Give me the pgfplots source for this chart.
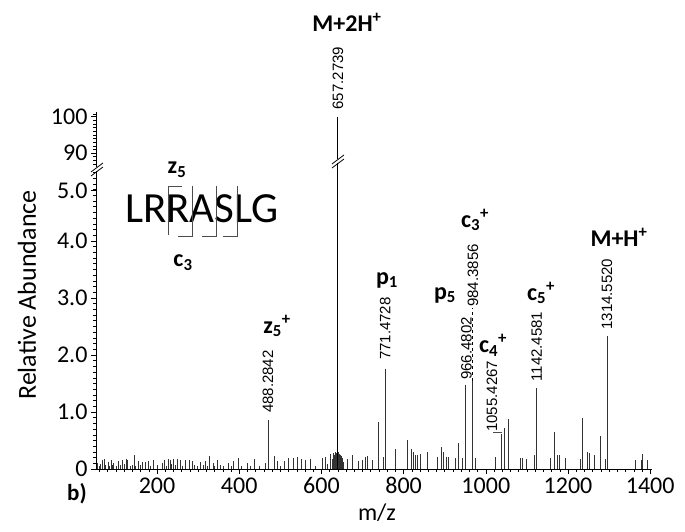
\documentclass[border=0pt]{standalone}
\usepackage{fontspec}
\setmainfont{Carlito}
\newfontfamily\arialf{Liberation Sans}
\usepackage{pgfplots}
\pgfplotsset{compat=1.18}
\begin{document}
\begin{tikzpicture}[x=1pt,y=1pt]
\useasboundingbox (0,0) rectangle (685,532);
\begin{axis}[
  at={(96pt,63pt)}, anchor=south west,
  width=556pt, height=357pt, scale only axis,
  xmin=51.6, xmax=1404.3, ymin=0, ymax=6.26,
  axis lines*=left,
  axis line style={line width=0.8pt},
  xtick={200,400,600,800,1000,1200,1400},
  xticklabels={200,400,600,800,1000,1200,1400},
  minor xtick={60,80,...,1400},
  ytick={0,1,2,3,4,4.88,5.54,6.18},
  yticklabels={0\hspace{12pt},1.0,2.0,3.0,4.0,5.0,90,100},
  minor ytick={0.1,0.2,...,5.2},
  extra y ticks={5.348,5.412,5.476,5.604,5.668,5.732,5.796,5.86,5.924,5.988,6.052,6.116,6.22},
  extra y tick labels={},
  extra tick style={major tick length=3pt},
  scaled ticks=false,
  tick align=outside, major tick length=5pt, minor tick length=3pt,
  tick style={black, line width=0.5pt},
  ticklabel style={font=\fontsize{24}{24}\selectfont},
  /pgf/number format/assume math mode=true,
  clip=false,
]
\addplot[ycomb, no marks, black!80, line width=0.7pt] coordinates {
(56,0.11) (60,0.06) (62,0.08) (66,0.15) (71,0.18) (75,0.07) (81,0.13) (84,0.06)
(88,0.15) (92,0.07) (95,0.11) (100,0.06) (105,0.14) (110,0.07) (115,0.15) (120,0.08)
(125,0.18) (129,0.15) (135,0.06) (140,0.07) (144,0.24) (148,0.06) (154,0.14) (160,0.07)
(164,0.13) (171,0.13) (178,0.14) (185,0.06) (190,0.15) (200,0.07) (212,0.11) (217,0.15)
(222,0.06) (227,0.18) (232,0.15) (236,0.08) (239,0.17) (245,0.07) (249,0.18) (258,0.15)
(262,0.06) (268,0.15) (278,0.15) (285,0.14) (290,0.07) (298,0.06) (305,0.13) (312,0.07)
(317,0.14) (322,0.06) (327,0.23) (336,0.11) (340,0.06) (348,0.15) (355,0.07) (362,0.06)
(373,0.11) (380,0.06) (385,0.14) (397,0.2) (405,0.06) (419,0.10) (428,0.06) (436,0.17)
(450,0.06) (463,0.11) (470,0.86) (485,0.23) (492,0.14) (500,0.06) (511,0.14) (519,0.19)
(531,0.2) (541,0.21) (550,0.17) (560,0.15) (572,0.17) (585,0.06) (602,0.19) (609,0.21)
(615,0.08) (621,0.26) (626,0.18) (628,0.22) (630,0.28) (632,0.25) (634,0.3) (636,0.28)
(638,0.32) (642,0.3) (644,0.27) (646,0.25) (648,0.22) (650,0.2) (653,0.12) (662,0.17)
(675,0.25) (689,0.14) (699,0.16) (706,0.21) (711,0.23) (723,0.16) (738,0.82) (750,0.21)
(755,1.75) (779,0.35) (808,0.51) (820,0.35) (823,0.3) (828,0.25) (833,0.25) (840,0.26)
(857,0.29) (881,0.21) (891,0.39) (896,0.3) (903,0.21) (910,0.21) (925,0.19) (932,0.45)
(942,0.2) (949,1.47) (966,1.55) (974,0.19) (1022,0.21) (1037,0.62) (1044,0.72) (1054,0.88)
(1083,0.19) (1088,0.2) (1098,0.17) (1117,0.25) (1124,1.42) (1156,0.19) (1166,0.65) (1173,0.25)
(1178,0.25) (1193,0.19) (1229,0.18) (1234,0.89) (1246,0.3) (1253,0.28) (1263,0.25) (1278,0.58)
(1290,0.18) (1295,2.33) (1363,0.15) (1378,0.15) (1382,0.26) (1392,0.15)
};
\addplot[ycomb, no marks, black, line width=0.9pt] coordinates {(640,6.18)};
\draw[dashed, line width=0.6pt] (axis cs:966,1.55) -- (axis cs:966,2.82);
\draw[line width=0.5pt, black!70] (axis cs:1018,0.64) -- (axis cs:1040,0.64);
\tikzset{pl/.style={rotate=90, anchor=west, inner sep=0pt, font=\arialf\fontsize{15}{15}\selectfont}}
\node[pl] at (axis cs:640,6.30) {657.2739};
\node[pl] at (axis cs:470,0.98) {488.2842};
\node[pl] at (axis cs:755,1.91) {771.4728};
\node[pl] at (axis cs:953,1.56) {966.4802};
\node[pl] at (axis cs:969,2.84) {984.3856};
\node[pl] at (axis cs:1015,0.65) {1055.4267};
\node[pl] at (axis cs:1124,1.53) {1142.4581};
\node[pl] at (axis cs:1295,2.44) {1314.5520};
\end{axis}
% axis breaks
\fill[white] (95.5,360.5) rectangle (98.5,364.5);
\draw[line width=0.8pt] (91,356) -- (103,365);
\draw[line width=0.8pt] (91,360) -- (103,369);
\fill[white] (336.5,368.5) rectangle (339.5,372.5);
\draw[line width=0.8pt] (332,364) -- (344,373);
\draw[line width=0.8pt] (332,368) -- (344,377);
% axis titles
\node[rotate=90, font=\fontsize{26}{26}\selectfont] at (27,237) {Relative Abundance};
\node[font=\fontsize{24}{24}\selectfont] at (377,19) {m/z};
\node[inner sep=0pt, font=\bfseries\fontsize{23}{23}\selectfont] at (77,38) {b)};
% ion labels
\tikzset{il/.style={font=\bfseries\fontsize{24}{24}\selectfont, inner sep=0pt}}
\node[il] at (347,510) {M+2H\textsuperscript{+}};
\node[il] at (177,362) {z\textsubscript{5}};
\node[il] at (183,269) {c\textsubscript{3}};
\node[il] at (277,206) {z\textsubscript{5}\textsuperscript{+}};
\node[il] at (387,252) {p\textsubscript{1}};
\node[il] at (445,237) {p\textsubscript{5}};
\node[il] at (475,312) {c\textsubscript{3}\textsuperscript{+}};
\node[il] at (493,187) {c\textsubscript{4}\textsuperscript{+}};
\node[il] at (541,239) {c\textsubscript{5}\textsuperscript{+}};
\node[il] at (619,295) {M+H\textsuperscript{+}};
% sequence
\node[anchor=base west, inner sep=0pt, font=\fontsize{43}{43}\selectfont] at (125,309) {LRRASLG};
\draw[line width=0.6pt, black!70] (182,346) -- (168,346) -- (168,297);
\draw[line width=0.6pt, black!70] (192,346) -- (192,296) -- (178,296);
\draw[line width=0.6pt, black!70] (216,346) -- (216,296) -- (202,296);
\draw[line width=0.6pt, black!70] (237,346) -- (237,296) -- (223,296);
\end{tikzpicture}
\end{document}
